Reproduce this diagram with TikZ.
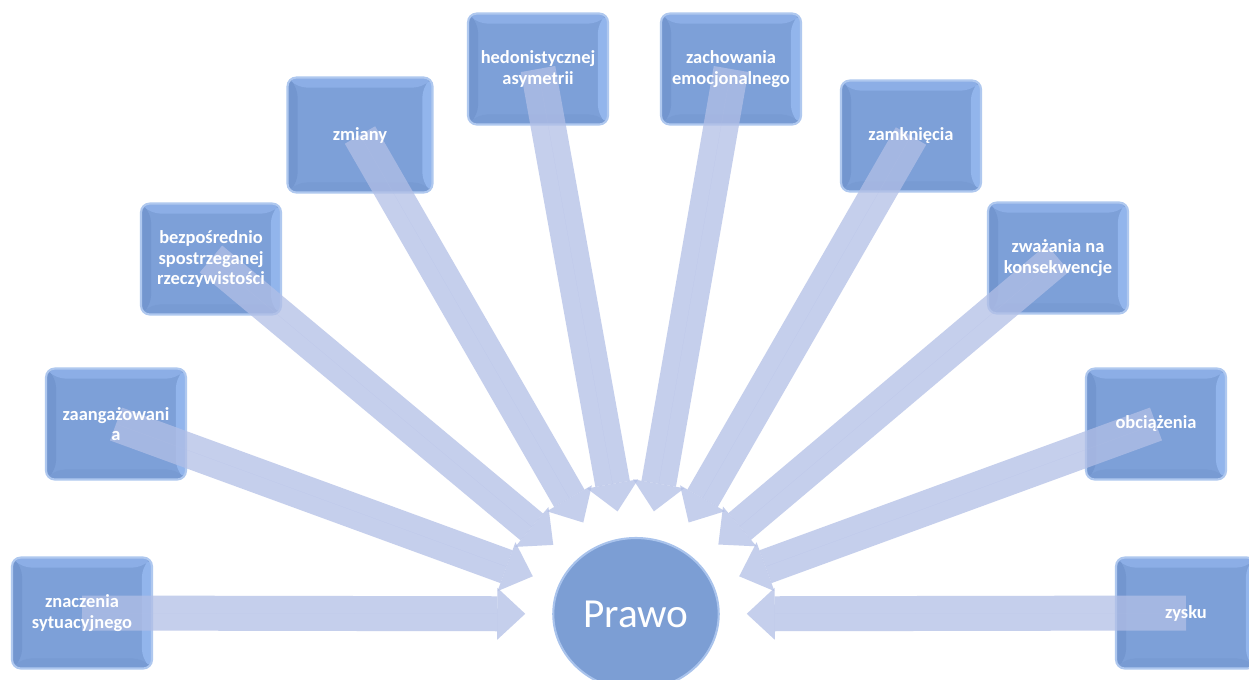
\documentclass[tikz,border=0pt]{standalone}
\usepackage{fontspec}
\setmainfont{Carlito}
\usetikzlibrary{shapes.geometric, arrows.meta}
\definecolor{boxmid}{HTML}{7DA0D8}
\definecolor{boxtop}{HTML}{8CAEE6}
\definecolor{boxleft}{HTML}{7396CF}
\definecolor{boxright}{HTML}{92B5EC}
\definecolor{boxbottom}{HTML}{789BD3}
\definecolor{boxedge}{HTML}{AFC8EF}
\definecolor{hubblue}{HTML}{7C9ED4}
\definecolor{hubedge}{HTML}{A9C3EC}
\definecolor{arrowfill}{HTML}{B2BFE6}
\pgfdeclareradialshading{hubshade}{\pgfpoint{0bp}{0bp}}{color(0bp)=(hubblue); color(40bp)=(hubblue); color(50bp)=(hubedge)}
\tikzstyle{box} = [rectangle, rounded corners=5pt, minimum width=2.8cm, minimum height=2.22cm, draw=boxedge, line width=1.2pt, fill=boxmid,
    path picture={
        \fill[boxtop] (path picture bounding box.north west) -- (path picture bounding box.north east)
            -- ([xshift=-0.2cm,yshift=-0.2cm]path picture bounding box.north east) -- ([xshift=0.2cm,yshift=-0.2cm]path picture bounding box.north west) -- cycle;
        \fill[boxleft] (path picture bounding box.north west) -- (path picture bounding box.south west)
            -- ([xshift=0.2cm,yshift=0.2cm]path picture bounding box.south west) -- ([xshift=0.2cm,yshift=-0.2cm]path picture bounding box.north west) -- cycle;
        \fill[boxright] (path picture bounding box.north east) -- (path picture bounding box.south east)
            -- ([xshift=-0.2cm,yshift=0.2cm]path picture bounding box.south east) -- ([xshift=-0.2cm,yshift=-0.2cm]path picture bounding box.north east) -- cycle;
        \fill[boxbottom] (path picture bounding box.south west) -- (path picture bounding box.south east)
            -- ([xshift=-0.2cm,yshift=0.2cm]path picture bounding box.south east) -- ([xshift=0.2cm,yshift=0.2cm]path picture bounding box.south west) -- cycle;
    }]
\tikzstyle{boxtext} = [text=white, align=center, font=\fontsize{10.5}{11.8}\selectfont\bfseries]
\tikzstyle{hub} = [ellipse, minimum width=3.2cm, minimum height=3.04cm, draw=hubedge, line width=1.2pt, shading=hubshade, text=white, font=\fontsize{23.5}{27}\selectfont]
\tikzstyle{arrow} = [line width=0.7cm, draw=arrowfill, fill=arrowfill, opacity=0.75, -{Triangle[width=1.04cm,length=0.56cm,line width=0pt]}, shorten >=0.54cm]

\begin{document}
\begin{tikzpicture}[x=0.02cm, y=-0.02cm]
        \fill[white] (0,0) rectangle (1249,680);
        \useasboundingbox (0,0) rectangle (1249,680);

        \node (prawo) [hub] at (636,614) {Prawo};

        \node (b1) [box] at (82,613) {};
        \node (b2) [box] at (116,424) {};
        \node (b3) [box] at (211,259) {};
        \node (b4) [box, minimum width=2.9cm, minimum height=2.3cm] at (360,135) {};
        \node (b5) [box] at (538,69) {};
        \node (b6) [box] at (731,69) {};
        \node (b7) [box] at (911,136) {};
        \node (b8) [box] at (1058,258) {};
        \node (b9) [box] at (1156,424) {};
        \node (b10) [box] at (1186,613) {};

        \draw [arrow] (b1.center) -- (prawo);
        \draw [arrow] (b2.center) -- (prawo);
        \draw [arrow] (b3.center) -- (prawo);
        \draw [arrow] (b4.center) -- (prawo);
        \draw [arrow] (b5.center) -- (prawo);
        \draw [arrow] (b6.center) -- (prawo);
        \draw [arrow] (b7.center) -- (prawo);
        \draw [arrow] (b8.center) -- (prawo);
        \draw [arrow] (b9.center) -- (prawo);
        \draw [arrow] (b10.center) -- (prawo);

        \node (t1) [boxtext] at (b1) {znaczenia\\sytuacyjnego};
        \node (t2) [boxtext] at (b2) {zaangażowani\\a};
        \node (t3) [boxtext] at (b3) {bezpośrednio\\spostrzeganej\\rzeczywistości};
        \node (t4) [boxtext] at (b4) {zmiany};
        \node (t5) [boxtext] at (b5) {hedonistycznej\\asymetrii};
        \node (t6) [boxtext] at (b6) {zachowania\\emocjonalnego};
        \node (t7) [boxtext] at (b7) {zamknięcia};
        \node (t8) [boxtext] at (b8) {zważania na\\konsekwencje};
        \node (t9) [boxtext] at (b9) {obciążenia};
        \node (t10) [boxtext] at (b10) {zysku};
    \end{tikzpicture}
\end{document}
